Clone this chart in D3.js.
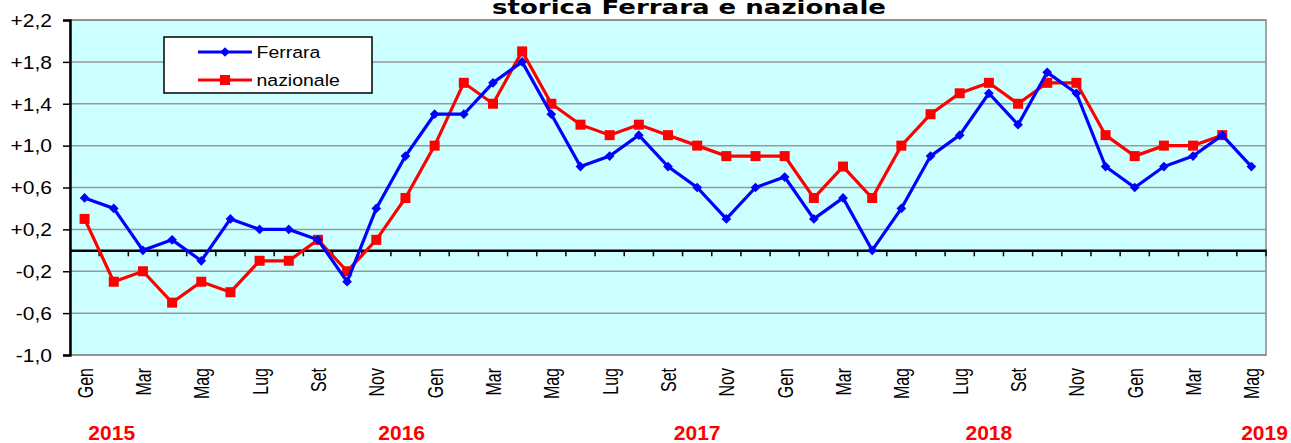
<!DOCTYPE html>
<html>
<head>
<meta charset="utf-8">
<script src="https://cdn.jsdelivr.net/npm/d3@7"></script>
<style>
  body { margin: 0; background: #fff; }
  svg { display: block; }
</style>
</head>
<body>
<div id="chart"></div>
<script>
// month labels (one per point, only every other one is shown)
var months = ["Gen","Feb","Mar","Apr","Mag","Giu","Lug","Ago","Set","Ott","Nov","Dic",
              "Gen","Feb","Mar","Apr","Mag","Giu","Lug","Ago","Set","Ott","Nov","Dic",
              "Gen","Feb","Mar","Apr","Mag","Giu","Lug","Ago","Set","Ott","Nov","Dic",
              "Gen","Feb","Mar","Apr","Mag"];

var ferrara = [0.5, 0.4, 0.0, 0.1, -0.1, 0.3, 0.2, 0.2, 0.1, -0.3, 0.4, 0.9,
               1.3, 1.3, 1.6, 1.8, 1.3, 0.8, 0.9, 1.1, 0.8, 0.6, 0.3, 0.6,
               0.7, 0.3, 0.5, 0.0, 0.4, 0.9, 1.1, 1.5, 1.2, 1.7, 1.5, 0.8,
               0.6, 0.8, 0.9, 1.1, 0.8];

var nazionale = [0.3, -0.3, -0.2, -0.5, -0.3, -0.4, -0.1, -0.1, 0.1, -0.2, 0.1, 0.5,
                 1.0, 1.6, 1.4, 1.9, 1.4, 1.2, 1.1, 1.2, 1.1, 1.0, 0.9, 0.9,
                 0.9, 0.5, 0.8, 0.5, 1.0, 1.3, 1.5, 1.6, 1.4, 1.6, 1.6, 1.1,
                 0.9, 1.0, 1.0, 1.1, null];

var yTicks = [-1.0, -0.6, -0.2, 0.2, 0.6, 1.0, 1.4, 1.8, 2.2];

// red year labels, with the month index they sit over
var years = ["2015", "2016", "2017", "2018", "2019"];
var yearPos = [0.93, 10.87, 21.0, 31.0, 40.45];

var svgWidth = 1291, svgHeight = 443;
var margin = {top: 20, right: 25, bottom: 88, left: 70},
    width = svgWidth - margin.left - margin.right,
    height = svgHeight - margin.top - margin.bottom;

var svg = d3.select("#chart")
  .append("svg")
    .attr("width", svgWidth)
    .attr("height", svgHeight)
    .style("font-family", "Arial, 'Liberation Sans', sans-serif");

var g = svg.append("g")
    .attr("transform", "translate(" + margin.left + "," + margin.top + ")");

var idx = d3.range(months.length);

var x = d3.scaleBand()
    .domain(idx)
    .range([0, width]);

var y = d3.scaleLinear()
    .domain([-1.0, 2.2])
    .range([height, 0]);

function cx(i) { return x(i) + x.bandwidth() / 2; }

// plot background
g.append("rect")
    .attr("width", width)
    .attr("height", height)
    .attr("fill", "#ccffff");

// grid
g.append("g")
  .selectAll("line")
  .data(yTicks)
  .enter()
  .append("line")
    .attr("x1", 0)
    .attr("x2", width)
    .attr("y1", function(d) { return y(d); })
    .attr("y2", function(d) { return y(d); })
    .attr("stroke", "#999")
    .attr("stroke-width", 1.5);

// frame
g.append("rect")
    .attr("width", width)
    .attr("height", height)
    .attr("fill", "none")
    .attr("stroke", "#888")
    .attr("stroke-width", 1.5);

// y axis
var yAxis = g.append("g")
    .call(d3.axisLeft(y)
      .tickValues(yTicks)
      .tickSize(7)
      .tickFormat(function(d) {
        var s = Math.abs(d).toFixed(1).replace(".", ",");
        return (d > 0 ? "+" : "-") + s;
      }));
yAxis.select(".domain").attr("stroke", "#000").attr("stroke-width", 2.5);
yAxis.selectAll(".tick line").attr("stroke", "#000").attr("stroke-width", 1.5);
yAxis.selectAll(".tick text")
    .attr("x", 0)
    .attr("dy", "0.36em")
    .attr("transform", "translate(-18,0) scale(1.2,1)")
    .attr("fill", "#000")
    .style("font-size", "17.5px")
    .style("font-family", "Arial, 'Liberation Sans', sans-serif");

// zero axis with category ticks
var xAxis = g.append("g")
    .attr("transform", "translate(0," + y(0) + ")")
    .call(d3.axisBottom(x)
      .tickValues([])
      .tickSizeOuter(0));
xAxis.select(".domain").attr("stroke", "#000").attr("stroke-width", 2.5);
xAxis.selectAll("line.cat")
  .data(d3.range(1, months.length + 1))
  .enter()
  .append("line")
    .attr("class", "cat")
    .attr("x1", function(d) { return x.step() * d; })
    .attr("x2", function(d) { return x.step() * d; })
    .attr("y1", 0)
    .attr("y2", 6)
    .attr("stroke", "#000")
    .attr("stroke-width", 1.5);

// month labels
g.append("g")
  .selectAll("text")
  .data(idx.filter(function(i) { return i % 2 === 0; }))
  .enter()
  .append("text")
    .attr("transform", function(i) {
      return "translate(" + (cx(i) + 8) + "," + (height + 13) + ") scale(1.4,1) rotate(-90)";
    })
    .attr("text-anchor", "end")
    .style("font-size", "16px")
    .text(function(i) { return months[i]; });

// year labels
g.append("g")
  .selectAll("text")
  .data(years)
  .enter()
  .append("text")
    .attr("x", function(d, i) { return cx(0) + yearPos[i] * x.step(); })
    .attr("y", 439.5 - margin.top)
    .attr("text-anchor", "middle")
    .attr("fill", "#ff0000")
    .style("font-size", "21px")
    .style("font-weight", "bold")
    .text(function(d) { return d; });

var line = d3.line()
    .defined(function(d) { return d != null; })
    .x(function(d, i) { return cx(i); })
    .y(function(d) { return y(d); });

// nazionale
g.append("path")
    .datum(nazionale)
    .attr("fill", "none")
    .attr("stroke", "#ff0000")
    .attr("stroke-width", 3.2)
    .attr("d", line);

g.append("g")
  .selectAll("rect")
  .data(idx.filter(function(i) { return nazionale[i] != null; }))
  .enter()
  .append("rect")
    .attr("x", function(i) { return cx(i) - 5; })
    .attr("y", function(i) { return y(nazionale[i]) - 5; })
    .attr("width", 10)
    .attr("height", 10)
    .attr("fill", "#ff0000");

// ferrara
g.append("path")
    .datum(ferrara)
    .attr("fill", "none")
    .attr("stroke", "#0000ff")
    .attr("stroke-width", 3.2)
    .attr("d", line);

var diamond = d3.symbol().type(d3.symbolDiamond2).size(60);
g.append("g")
  .selectAll("path")
  .data(idx)
  .enter()
  .append("path")
    .attr("transform", function(i) { return "translate(" + cx(i) + "," + y(ferrara[i]) + ")"; })
    .attr("d", diamond)
    .attr("fill", "#0000ff");

// legend
var lg = svg.append("g").attr("transform", "translate(164,37)");
lg.append("rect")
    .attr("width", 208)
    .attr("height", 56)
    .attr("fill", "#fff")
    .attr("stroke", "#000")
    .attr("stroke-width", 1.5);

var legendItems = [
  {name: "Ferrara", color: "#0000ff", shape: "diamond"},
  {name: "nazionale", color: "#ff0000", shape: "square"}
];
var li = lg.selectAll("g.item")
  .data(legendItems)
  .enter()
  .append("g")
    .attr("class", "item")
    .attr("transform", function(d, i) { return "translate(0," + (15 + i * 28) + ")"; });
li.append("line")
    .attr("x1", 34).attr("x2", 88)
    .attr("stroke", function(d) { return d.color; })
    .attr("stroke-width", 3.2);
li.each(function(d) {
  var s = d3.select(this);
  if (d.shape === "diamond") {
    s.append("path").attr("transform", "translate(61,0)").attr("d", diamond).attr("fill", d.color);
  } else {
    s.append("rect").attr("x", 56).attr("y", -5).attr("width", 10).attr("height", 10).attr("fill", d.color);
  }
});
li.append("text")
    .attr("transform", "translate(92.5,6.3) scale(1.18,1)")
    .style("font-size", "16.5px")
    .text(function(d) { return d.name; });

// title (only its second line is visible)
svg.append("text")
    .attr("x", 492)
    .attr("y", 14)
    .attr("textLength", 394)
    .attr("lengthAdjust", "spacingAndGlyphs")
    .style("font-family", "'DejaVu Sans', Verdana, sans-serif")
    .style("font-weight", "bold")
    .style("font-size", "20px")
    .text("storica Ferrara e nazionale");
</script>
</body>
</html>
